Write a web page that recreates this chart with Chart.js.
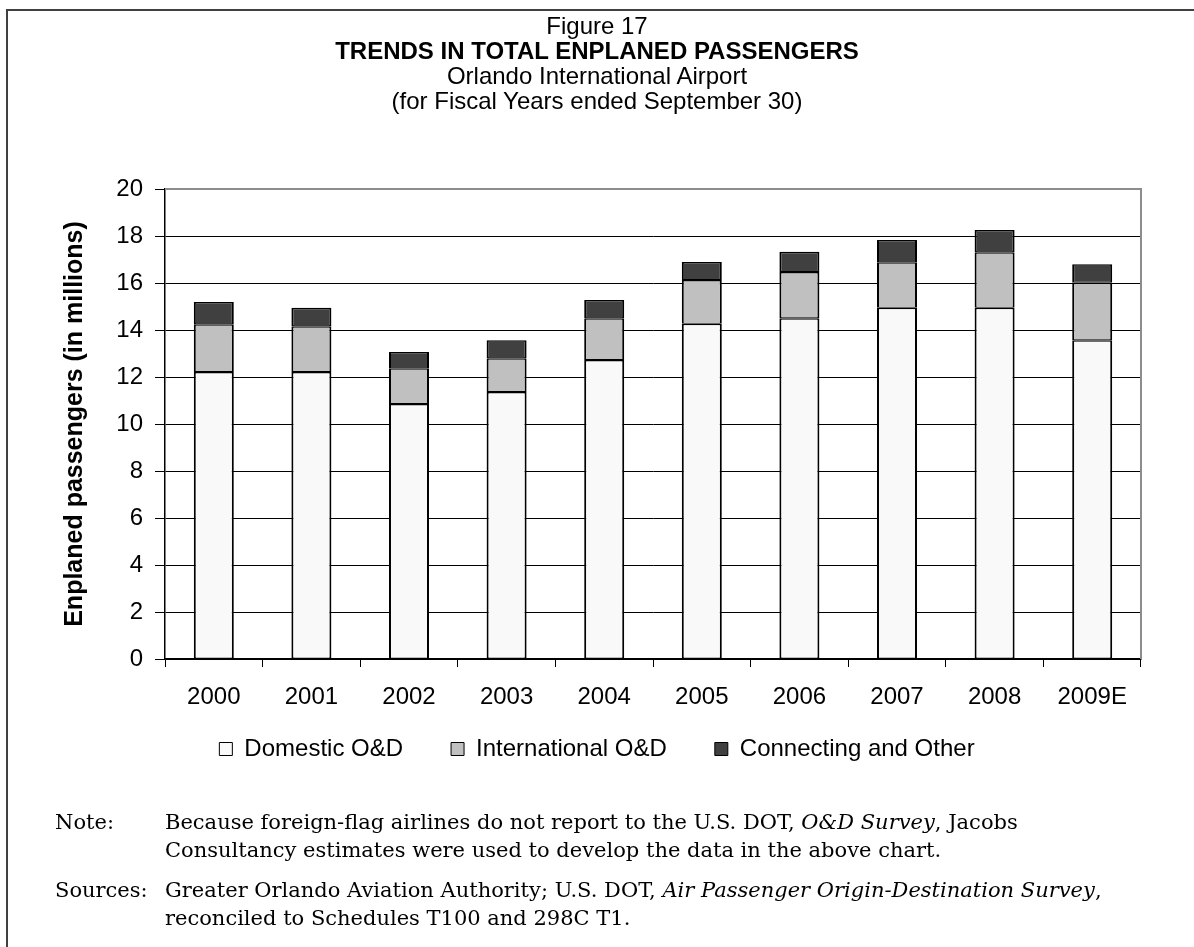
<!DOCTYPE html>
<html>
<head>
<meta charset="utf-8">
<script src="https://cdn.jsdelivr.net/npm/chart.js@4.4.1/dist/chart.umd.min.js"></script>
<style>
  html, body { margin: 0; padding: 0; background: #fff; }
  #page { position: relative; width: 1194px; height: 947px; overflow: hidden; }
  #frame { position: absolute; left: 6px; top: 9px; right: -10px; bottom: -10px;
           border-top: 2px solid #404040; border-left: 2px solid #404040; }
  canvas { position: absolute; left: 0; top: 0; }
  #heading { position: absolute; left: 0; top: 13px; width: 1194px; text-align: center;
             font-family: "Liberation Sans", Arial, sans-serif; font-size: 24px; line-height: 25px; color: #000; }
  #heading .bold { font-weight: bold; }
  .note { position: absolute; left: 0; width: 1194px; font-family: "DejaVu Serif", "Liberation Serif", serif;
          font-size: 21px; line-height: 28px; color: #000; }
  .note .lbl { position: absolute; left: 55px; top: 0; }
  .note .txt { position: absolute; left: 165px; top: 0; white-space: nowrap; }
</style>
</head>
<body>
<div id="page">
  <div id="frame"></div>
  <canvas id="chart" width="1194" height="947"></canvas>
  <div id="heading">
    <div>Figure 17</div>
    <div class="bold">TRENDS IN TOTAL ENPLANED PASSENGERS</div>
    <div>Orlando International Airport</div>
    <div>(for Fiscal Years ended September 30)</div>
  </div>
  <div class="note" style="top:808px">
    <span class="lbl">Note:</span>
    <span class="txt">Because foreign-flag airlines do not report to the U.S. DOT, <i>O&amp;D Survey</i>, Jacobs<br>Consultancy estimates were used to develop the data in the above chart.</span>
  </div>
  <div class="note" style="top:876px">
    <span class="lbl">Sources:</span>
    <span class="txt">Greater Orlando Aviation Authority; U.S. DOT, <i>Air Passenger Origin-Destination Survey</i>,<br>reconciled to Schedules T100 and 298C T1.</span>
  </div>
</div>
<script>
// enplaned passengers, millions
const years = ['2000', '2001', '2002', '2003', '2004', '2005', '2006', '2007', '2008', '2009E'];
const domestic = [12.21, 12.21, 10.85, 11.36, 12.72, 14.27, 14.50, 14.95, 14.95, 13.56];
const international = [2.03, 1.95, 1.52, 1.44, 1.78, 1.86, 1.97, 1.93, 2.36, 2.45];
const connecting = [0.95, 0.79, 0.69, 0.76, 0.78, 0.76, 0.86, 0.95, 0.95, 0.79];
const yMin = 0, yMax = 20, yStep = 2;

Chart.defaults.font.family = '"Liberation Sans", Arial, sans-serif';
Chart.defaults.color = '#000';

// gray plot-area border on top and right, like the excel chart
const plotFrame = {
  id: 'plotFrame',
  afterDraw(chart) {
    const { ctx, chartArea: a } = chart;
    ctx.save();
    ctx.strokeStyle = '#8c8c8c';
    ctx.lineWidth = 2;
    ctx.beginPath();
    ctx.moveTo(a.left, a.top);
    ctx.lineTo(a.right, a.top);
    ctx.lineTo(a.right, a.bottom);
    ctx.stroke();
    ctx.restore();
  }
};

// legend padding gives the wide gaps between items but also pushes the row down; pull it back up
const legendLift = {
  id: 'legendLift',
  afterLayout(chart) {
    const l = chart.legend;
    l.top -= 20;
    l.bottom -= 20;
  }
};

// segments touch, so keep top/bottom borders thin so the shared edge stays ~2px
const bar = {
  borderColor: '#000',
  borderWidth: { top: 1.5, bottom: 1, left: 2, right: 2 },
  borderSkipped: false,
  inflateAmount: 0,
  barPercentage: 0.41,
  categoryPercentage: 1
};

new Chart(document.getElementById('chart'), {
  type: 'bar',
  data: {
    labels: years,
    datasets: [
      { ...bar, label: 'Domestic O&D', data: domestic, backgroundColor: '#f9f9f9' },
      { ...bar, label: 'International O&D', data: international, backgroundColor: '#c0c0c0' },
      { ...bar, label: 'Connecting and Other', data: connecting, backgroundColor: '#404040' }
    ]
  },
  options: {
    responsive: false,
    animation: false,
    devicePixelRatio: 1,
    layout: { padding: { left: 53, right: 53, top: 189, bottom: 156 } },
    plugins: {
      tooltip: { enabled: false },
      title: { display: false },
      legend: {
        position: 'bottom',
        labels: {
          boxWidth: 13,
          boxHeight: 13,
          padding: 48,
          color: '#000',
          font: { size: 24 },
          generateLabels: chart => Chart.defaults.plugins.legend.labels.generateLabels(chart)
            .map(l => ({ ...l, lineWidth: 1, strokeStyle: '#000' }))
        }
      }
    },
    scales: {
      x: {
        stacked: true,
        afterFit: s => { s.height = 50; },
        border: { color: '#000', width: 1.5 },
        grid: { drawOnChartArea: false, offset: true, tickLength: 8, color: '#000' },
        ticks: { font: { size: 24 }, color: '#000', padding: 16, maxRotation: 0 }
      },
      y: {
        stacked: true,
        min: yMin,
        max: yMax,
        afterFit: s => { s.width = 112; },
        border: { color: '#000', width: 1.5 },
        grid: {
          tickLength: 10,
          tickColor: '#000',
          color: c => (c.tick && c.tick.value === yMax ? '#8c8c8c' : '#000'),
          lineWidth: 1
        },
        ticks: { stepSize: yStep, font: { size: 24 }, color: '#000', padding: 12 },
        title: {
          display: true,
          text: 'Enplaned passengers (in millions)',
          font: { size: 25, weight: 'bold' },
          color: '#000',
          padding: { top: 7, bottom: 0 }
        }
      }
    }
  },
  plugins: [plotFrame, legendLift]
});
</script>
</body>
</html>
